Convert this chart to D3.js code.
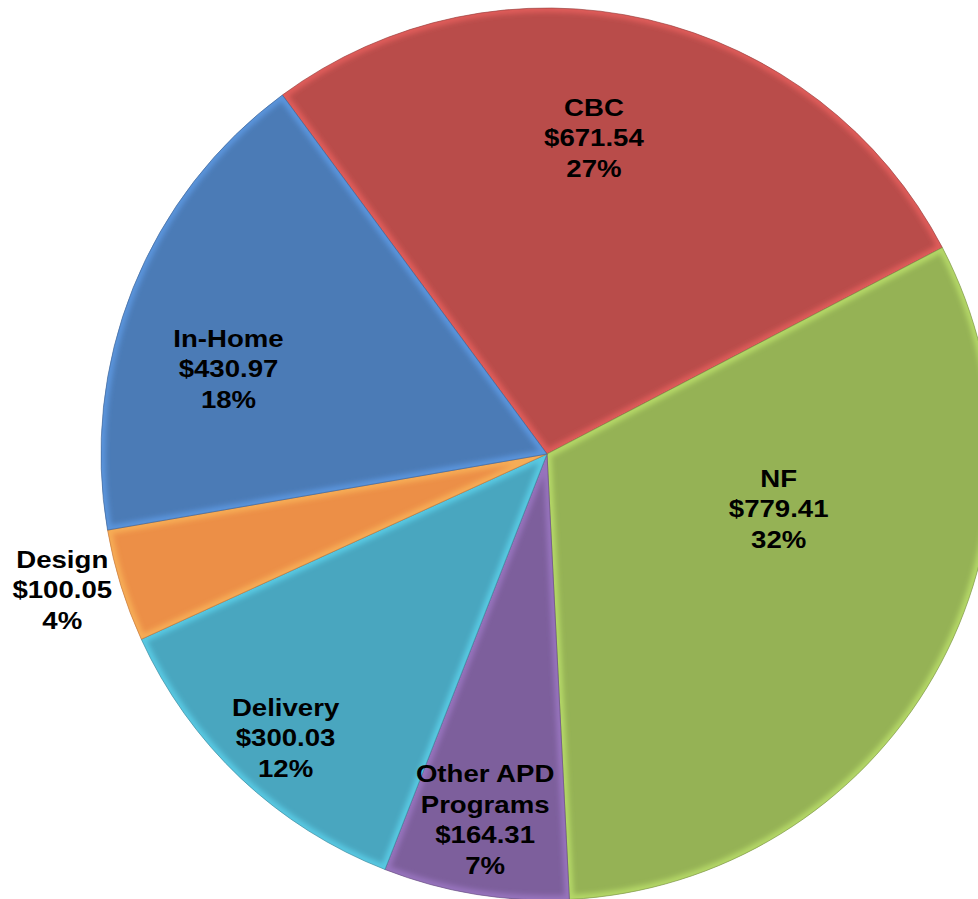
<!DOCTYPE html>
<html>
<head>
<meta charset="utf-8">
<script src="https://cdn.jsdelivr.net/npm/d3@7"></script>
<style>
  html, body { margin: 0; padding: 0; background: #fff; }
  svg { display: block; }
  .lbl { font-family: "Liberation Sans", Arial, sans-serif; font-weight: bold; font-size: 23px; fill: #000; }
</style>
</head>
<body>
<svg id="chart"></svg>
<script>
// data, in the order Excel draws it (clockwise from the CBC edge)
const names = ['CBC', 'NF', 'Other APD Programs', 'Delivery', 'Design', 'In-Home'];
const values = [671.54, 779.41, 164.31, 300.03, 100.05, 430.97];
const percents = ['27%', '32%', '7%', '12%', '4%', '18%'];
const colors = ['#b94c4a', '#95b255', '#7d5f9c', '#49a6bf', '#ec8f47', '#4b7bb6'];

// label lines per slice (name may wrap)
const nameLines = [['CBC'], ['NF'], ['Other APD', 'Programs'], ['Delivery'], ['Design'], ['In-Home']];

// where Excel put each label: polar angle (deg from 12 o'clock) and distance as share of radius
const labelPlace = [
    {a: 8.45, r: 0.716},
    {a: 103.4, r: 0.534},
    {a: 189.6, r: 0.832},
    {a: 222.6, r: 0.866},
    {a: 254.3, r: 1.129},
    {a: -75.1, r: 0.739}
];
const lineH = 30.5;

const width = 978, height = 899;
const cx = 547, cy = 454, R = 446;

const svg = d3.select('#chart').attr('width', width).attr('height', height);
const defs = svg.append('defs');

defs.append('filter').attr('id', 'soft')
    .attr('x', '-10%').attr('y', '-10%').attr('width', '120%').attr('height', '120%')
    .append('feGaussianBlur').attr('stdDeviation', 2.5);

const pie = d3.pie().sort(null).value(d => d)
    .startAngle(-36.4 * Math.PI / 180)
    .endAngle((360 - 36.4) * Math.PI / 180);
const arcs = pie(values);
const arc = d3.arc().innerRadius(0).outerRadius(R);

const g = svg.append('g').attr('transform', `translate(${cx},${cy})`);

arcs.forEach((d, i) => {
    defs.append('clipPath').attr('id', 'clip' + i)
        .append('path').attr('d', arc(d));
});

const slices = g.selectAll('.slice')
    .data(arcs)
    .join('g')
    .attr('class', 'slice');

slices.append('path')
    .attr('d', arc)
    .attr('fill', (d, i) => colors[i]);

// bevel: light glow along the inside of each slice edge
slices.append('g')
    .attr('clip-path', (d, i) => `url(#clip${i})`)
    .append('path')
    .attr('d', arc)
    .attr('fill', 'none')
    .attr('stroke', (d, i) => d3.color(colors[i]).brighter(0.9))
    .attr('stroke-width', 9)
    .attr('stroke-opacity', 0.55)
    .attr('filter', 'url(#soft)');

slices.append('path')
    .attr('d', arc)
    .attr('fill', 'none')
    .attr('stroke', (d, i) => d3.color(colors[i]).darker(0.6))
    .attr('stroke-width', 1)
    .attr('stroke-opacity', 0.6);

// labels (Excel's text is drawn a bit wide, hence the x scale)
const labels = g.selectAll('.lbl')
    .data(arcs)
    .join('text')
    .attr('class', 'lbl')
    .attr('text-anchor', 'middle')
    .attr('transform', (d, i) => {
        const p = labelPlace[i];
        const t = p.a * Math.PI / 180;
        return `translate(${Math.sin(t) * p.r * R},${-Math.cos(t) * p.r * R}) scale(1.2,1)`;
    });

labels.each(function(d, i) {
    const lines = nameLines[i].concat(['$' + values[i].toFixed(2), percents[i]]);
    const y0 = -(lines.length - 1) * lineH / 2 + 8;
    d3.select(this).selectAll('tspan')
        .data(lines)
        .join('tspan')
        .attr('x', 0)
        .attr('y', (s, k) => y0 + k * lineH)
        .text(s => s);
});
</script>
</body>
</html>
